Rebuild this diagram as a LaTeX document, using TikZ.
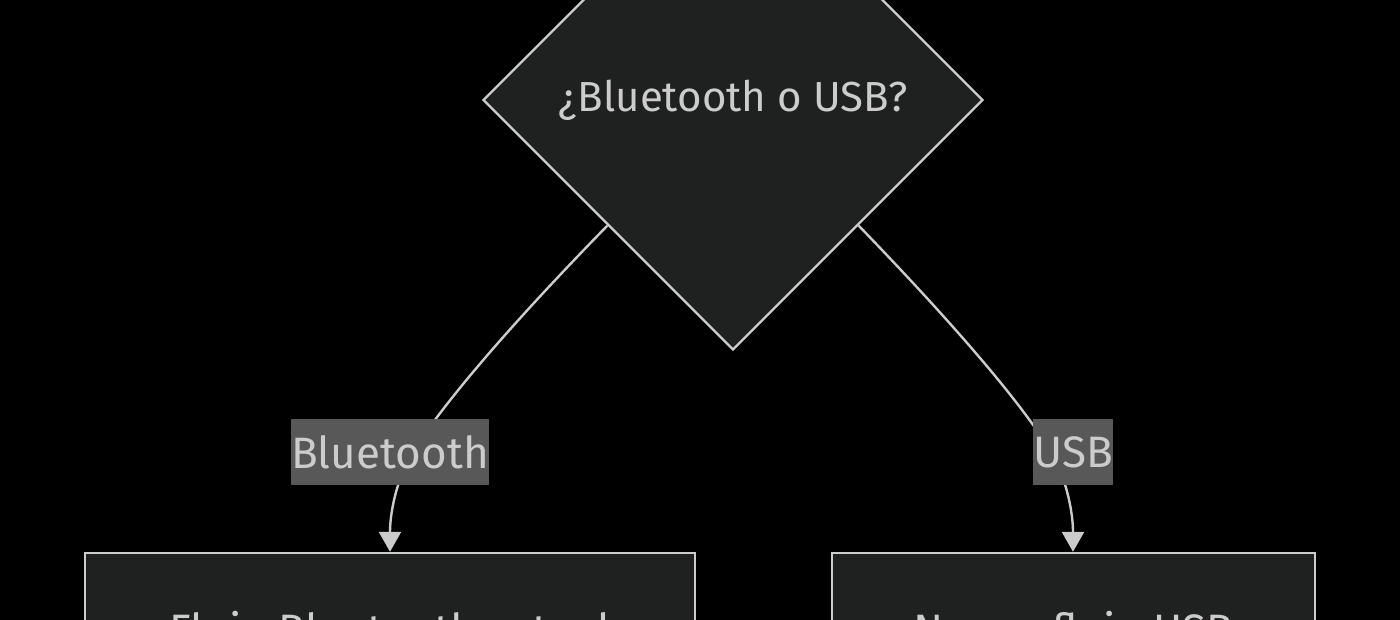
\documentclass[tikz,border=0pt]{standalone}
\usepackage{fontspec}
\setmainfont{Fira Sans}
\usetikzlibrary{shapes.geometric,arrows.meta}
\definecolor{nodefill}{HTML}{1F2020}
\definecolor{linecol}{HTML}{CCCCCC}
\definecolor{txt}{HTML}{CCCCCC}
\definecolor{lblbg}{HTML}{585858}
\tikzset{
  decision/.style={diamond, aspect=1, minimum width=500pt, minimum height=500pt, inner sep=0pt, fill=nodefill, draw=linecol, line width=2.4pt, text=txt, font=\fontsize{42}{50}\selectfont},
  flowbox/.style={rectangle, fill=nodefill, draw=linecol, line width=2.4pt, text=txt, minimum height=160pt, inner sep=0pt, font=\fontsize{44}{52}\selectfont},
  edgelabel/.style={rectangle, fill=lblbg, text=txt, inner sep=0pt, minimum height=66pt, font=\fontsize{44}{52}\selectfont},
  connector/.style={draw=linecol, line width=2.4pt, -{Triangle[width=22pt,length=20pt]}},
}
\begin{document}
\begin{tikzpicture}[x=1pt,y=-1pt]
\useasboundingbox (0,0) rectangle (1400,620);
\clip (0,0) rectangle (1400,620);
\fill[black] (0,0) rectangle (1400,620);
\node[decision] (d) at (733,100) {¿Bluetooth o USB?};
\node[flowbox, minimum width=610pt] (bt) at (390,633) {Flujo Bluetooth actual};
\node[flowbox, minimum width=483pt] (usb) at (1073.5,633) {Nuevo flujo USB};
\coordinate (lb) at (413,452);
\coordinate (lu) at (1051,452);
\draw[connector] (d.south west) .. controls (520,315) and (445,400) .. (lb) .. controls (395,482) and (390,515) .. (bt.north -| 390,0);
\draw[connector] (d.south east) .. controls (945,315) and (1020,400) .. (lu) .. controls (1068,482) and (1073,515) .. (usb.north -| 1073,0);
\node[edgelabel, minimum width=194pt] (lbt) at (390,452) {Bluetooth};
\node[edgelabel, minimum width=74pt] (lusb) at (1073,452) {USB};
\end{tikzpicture}
\end{document}
